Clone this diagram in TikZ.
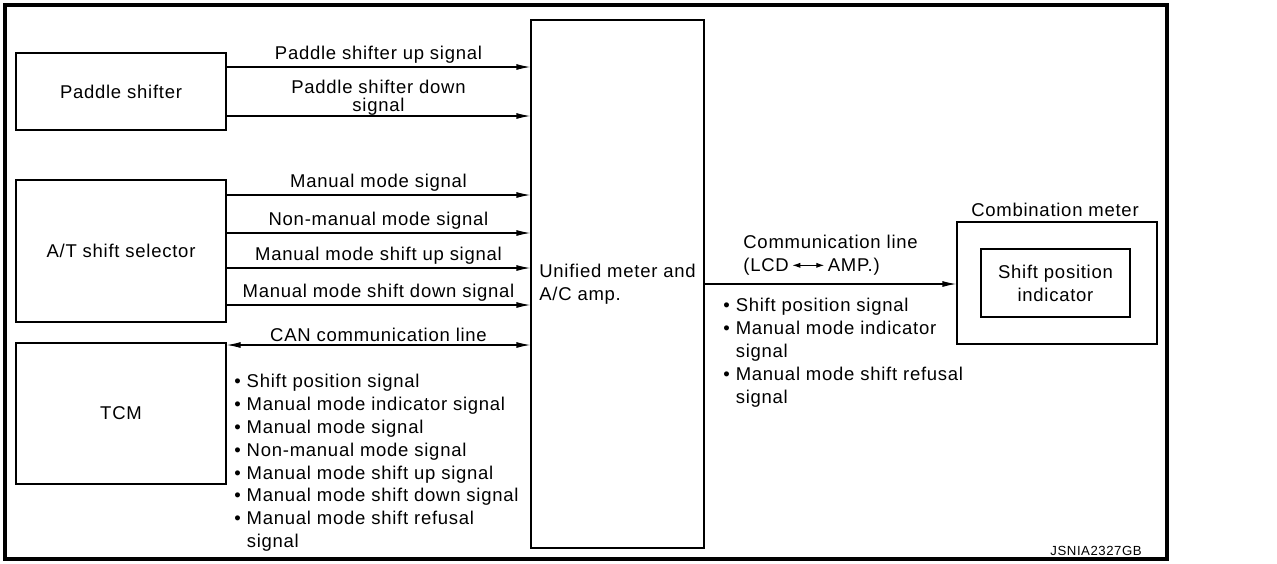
\documentclass[tikz,border=0pt]{standalone}
\usepackage{fontspec}
\setmainfont{Liberation Sans}[LetterSpace=4]
\usetikzlibrary{arrows.meta}
\begin{document}
\begin{tikzpicture}[x=0.5pt,y=-0.5pt,
  font=\fontsize{9.25}{11.4}\selectfont,
  box/.style={draw, line width=0.6pt, inner sep=0pt},
  arr/.style={-{Latex[length=7pt,width=3pt]}, line width=0.6pt},
  darr/.style={{Latex[length=7pt,width=3pt]}-{Latex[length=7pt,width=3pt]}, line width=0.6pt},
  lbl/.style={above, inner sep=0pt, yshift=1.5pt, align=center},
  list/.style={anchor=north west, inner sep=0pt, align=left}]
\useasboundingbox (0,0) rectangle (1277,563);
\draw[line width=1.6pt] (5,5) rectangle (1167,559);

\node[box, minimum width=105pt, minimum height=38.5pt] (ps) at (121,91.5) {Paddle shifter};
\node[box, minimum width=105pt, minimum height=71pt] (at) at (121,251) {A/T shift selector};
\node[box, minimum width=105pt, minimum height=70.5pt] (tcm) at (121,413.5) {TCM};
\node[box, minimum width=86.5pt, minimum height=264pt, align=left] (um) at (617.5,284) {Unified meter and\\A/C amp.};
\node[box, minimum width=100pt, minimum height=61pt] (cm) at (1057,283) {};
\node[box, minimum width=74.5pt, minimum height=34pt, align=center] (spi) at (1055.5,283) {Shift position\\indicator};
\node[anchor=south, inner sep=0pt, yshift=2pt, xshift=-1pt] (cmt) at (cm.north) {Combination meter};

\draw[arr] (ps.east |- 0,67) -- node[lbl] {Paddle shifter up signal} (um.west |- 0,67);
\draw[arr] (ps.east |- 0,116) -- node[lbl, yshift=-1.3pt, font=\fontsize{9.25}{8.7}\selectfont] {Paddle shifter down\\signal} (um.west |- 0,116);
\draw[arr] (at.east |- 0,195) -- node[lbl] {Manual mode signal} (um.west |- 0,195);
\draw[arr] (at.east |- 0,233) -- node[lbl] {Non-manual mode signal} (um.west |- 0,233);
\draw[arr] (at.east |- 0,268) -- node[lbl] {Manual mode shift up signal} (um.west |- 0,268);
\draw[arr] (at.east |- 0,305) -- node[lbl] {Manual mode shift down signal} (um.west |- 0,305);
\draw[darr] (tcm.east |- 0,345) -- node[lbl] {CAN communication line} (um.west |- 0,345);

\node[list] (tl) at (234,374) {• Shift position signal\\
• Manual mode indicator signal\\
• Manual mode signal\\
• Non-manual mode signal\\
• Manual mode shift up signal\\
• Manual mode shift down signal\\
• Manual mode shift refusal\\
\phantom{• }signal};

\draw[arr] (um.east |- 0,284) -- (cm.west |- 0,284);
\node[anchor=west, inner sep=0pt, align=left] (cl) at (743,255) {Communication line\\(LCD\kern1.5pt\tikz[baseline=-0.6ex]\draw[line width=0.5pt,{Latex[length=4pt,width=2.6pt]}-{Latex[length=4pt,width=2.6pt]}] (0pt,0pt) -- (16pt,0pt);\kern1.5pt AMP.)};
\node[list] (rl) at (723,298) {• Shift position signal\\
• Manual mode indicator\\
\phantom{• }signal\\
• Manual mode shift refusal\\
\phantom{• }signal};

\node[anchor=east, inner sep=0pt, font=\fontsize{6.6}{8}\selectfont] (id) at (1142,551) {JSNIA2327GB};
\end{tikzpicture}
\end{document}
